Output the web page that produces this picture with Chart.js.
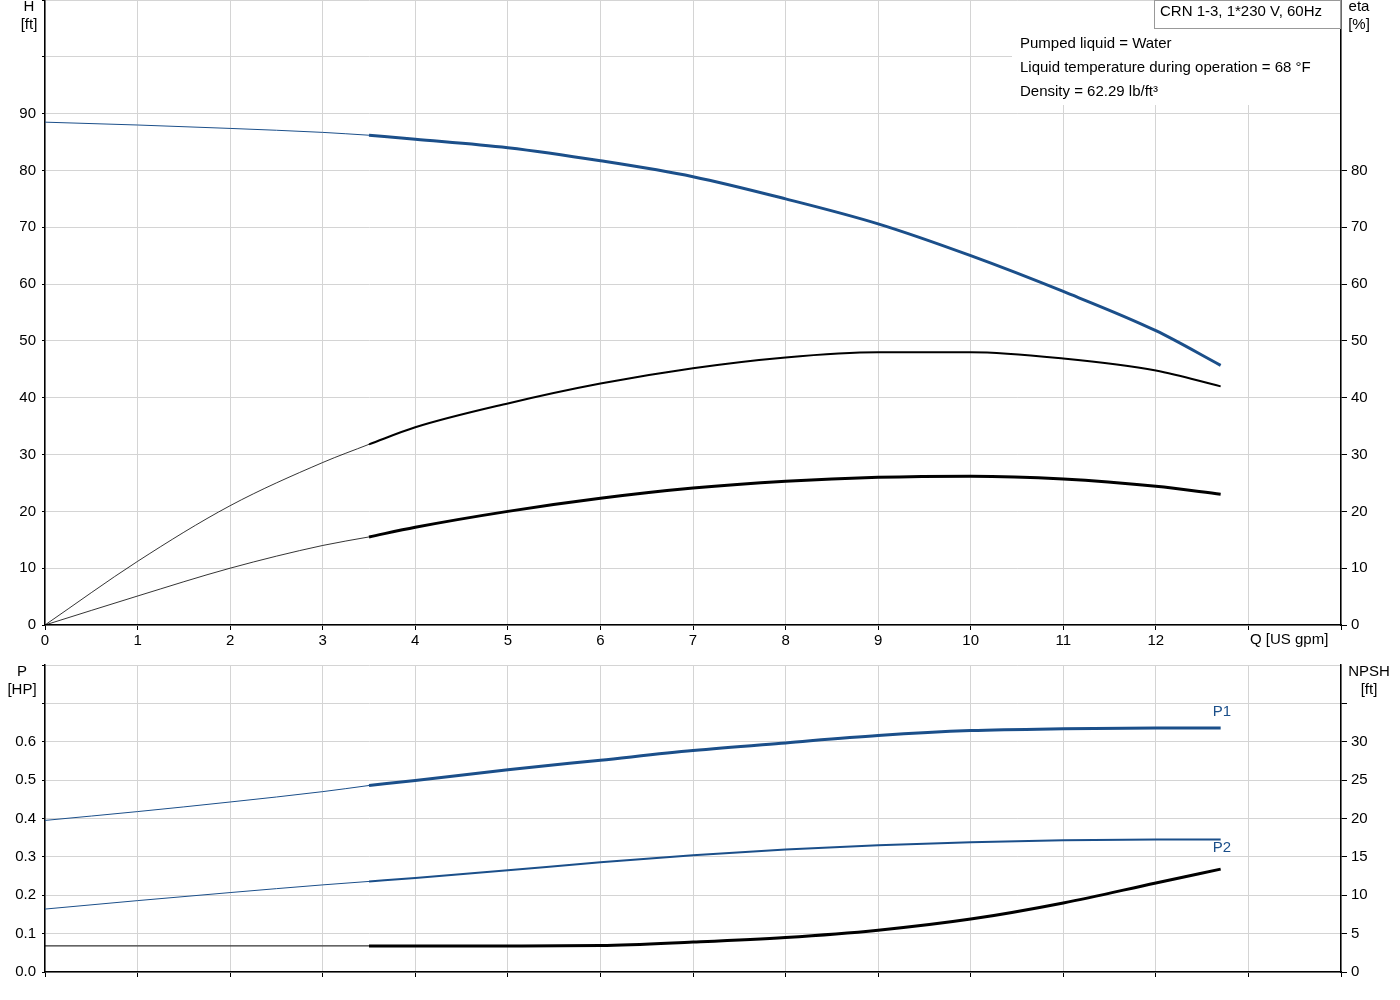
<!DOCTYPE html>
<html><head><meta charset="utf-8">
<script src="https://cdn.jsdelivr.net/npm/chart.js@4"></script>
<style>body{margin:0;background:#fff;overflow:hidden}</style>
</head><body>
<div id="w1" style="position:absolute;left:0;top:0;width:1400px;height:655px"><canvas id="c1"></canvas></div>
<div id="w2" style="position:absolute;left:0;top:655px;width:1400px;height:345px"><canvas id="c2"></canvas></div>
<script>
const qThin = [0, 1, 2, 3, 3.5];
const qThick = [3.5, 4, 5, 6, 7, 8, 9, 10, 11, 12, 12.7];
const hThin = [88.5, 88.0, 87.4, 86.7, 86.2];
const hThick = [86.2, 85.5, 84.0, 81.7, 78.9, 75.0, 70.6, 65.0, 58.7, 51.8, 45.7];
const etaAThin = [0, 11.2, 21.0, 28.6, 31.8];
const etaAThick = [31.8, 34.8, 39.0, 42.5, 45.2, 47.1, 48.0, 48.0, 46.9, 44.8, 42.0];
const etaBThin = [0, 5.1, 10.0, 14.0, 15.5];
const etaBThick = [15.5, 17.2, 20.0, 22.3, 24.1, 25.3, 26.0, 26.2, 25.7, 24.4, 23.0];
const p1Thin = [0.395, 0.418, 0.443, 0.470, 0.486];
const p1Thick = [0.486, 0.499, 0.527, 0.552, 0.577, 0.597, 0.616, 0.629, 0.634, 0.636, 0.636];
const p2Thin = [0.164, 0.186, 0.207, 0.227, 0.236];
const p2Thick = [0.236, 0.245, 0.265, 0.286, 0.304, 0.319, 0.330, 0.338, 0.343, 0.345, 0.345];
const npshThin = [3.4, 3.4, 3.4, 3.4, 3.4];
const npshThick = [3.4, 3.4, 3.4, 3.45, 3.9, 4.5, 5.45, 6.9, 9.0, 11.6, 13.4];
const xTickLabels = ['0','1','2','3','4','5','6','7','8','9','10','11','12','',''];

const BLUE = '#1b4f8a';
Chart.defaults.font = {family: 'Liberation Sans, Arial', size: 15};
Chart.defaults.color = '#000';
const pts = (xs, ys) => xs.map((x, i) => ({x, y: ys[i]}));
const ds = (xs, ys, color, w, axis) => ({data: pts(xs, ys), borderColor: color, borderWidth: w, pointRadius: 0, cubicInterpolationMode: 'monotone', yAxisID: axis, fill: false});
const fixW = w => function (s) { s.width = w; };
const fixH = h => function (s) { s.height = h; };
const GRID = '#d4d4d4';
const offs = {c1: 0, c2: 655};

function xScale(labels, h) {
  return {type: 'linear', min: 0, max: 14, afterFit: fixH(h),
    afterBuildTicks: s => { s.ticks = []; for (let i = 0; i <= 14; i++) s.ticks.push({value: i}); },
    ticks: {display: labels, maxRotation: 0, padding: 2, callback: v => xTickLabels[v] || ''},
    grid: {color: GRID, tickLength: 5, tickColor: '#000'},
    border: {color: '#000', width: 1.5}};
}
function textPlugin(name, fn) { return {id: name, afterDraw: c => { const x = c.ctx; x.save(); x.translate(0, -offs[c.canvas.id]); fn(x, c); x.restore(); }}; }

const ch1 = new Chart(document.getElementById('c1'), {
  type: 'line',
  data: {datasets: [
    ds(qThin, hThin, BLUE, 1, 'yL'), ds(qThick, hThick, BLUE, 3, 'yL'),
    ds(qThin, etaAThin, '#000', 0.8, 'yR'), ds(qThick, etaAThick, '#000', 2, 'yR'),
    ds(qThin, etaBThin, '#000', 0.8, 'yR'), ds(qThick, etaBThick, '#000', 3, 'yR')]},
  options: {responsive: true, maintainAspectRatio: false, animation: false,
    layout: {padding: 0},
    plugins: {legend: {display: false}, tooltip: {enabled: false}},
    scales: {
      x: xScale(true, 30),
      yL: {position: 'left', min: 0, max: 110, afterFit: fixW(45),
        afterBuildTicks: s => { s.ticks = []; for (let i = 0; i <= 110; i += 10) s.ticks.push({value: i}); },
        ticks: {padding: 6, callback: v => v <= 90 ? v : ''},
        grid: {color: GRID, tickLength: 3, tickColor: '#000'}, border: {color: '#000', width: 1.5}},
      yR: {position: 'right', min: 0, max: 110, afterFit: fixW(59),
        afterBuildTicks: s => { s.ticks = []; for (let i = 0; i <= 80; i += 10) s.ticks.push({value: i}); },
        ticks: {padding: 4},
        grid: {drawOnChartArea: false, tickLength: 6, tickColor: '#000'}, border: {color: '#000', width: 1.5}}
    }},
  plugins: [textPlugin('t1', (x, c) => {
    x.fillStyle = '#fff'; x.fillRect(1012, 1, 328, 104);
    x.strokeStyle = '#999'; x.lineWidth = 1; x.strokeRect(1154.5, 0.5, 186, 28);
    x.fillStyle = '#000'; x.font = '15px Liberation Sans, Arial'; x.textBaseline = 'middle';
    x.textAlign = 'left';
    x.fillText('CRN 1-3, 1*230 V, 60Hz', 1160, 12);
    x.fillText('Pumped liquid = Water', 1020, 44);
    x.fillText('Liquid temperature during operation = 68 °F', 1020, 68);
    x.fillText('Density = 62.29 lb/ft³', 1020, 92);
    x.fillText('Q [US gpm]', 1250, 640);
    x.textAlign = 'center';
    x.fillText('H', 29, 7); x.fillText('[ft]', 29, 25);
    x.fillText('eta', 1359, 7); x.fillText('[%]', 1359, 25);
  })]
});

const ch2 = new Chart(document.getElementById('c2'), {
  type: 'line',
  data: {datasets: [
    ds(qThin, p1Thin, BLUE, 1, 'yL'), ds(qThick, p1Thick, BLUE, 3, 'yL'),
    ds(qThin, p2Thin, BLUE, 1, 'yL'), ds(qThick, p2Thick, BLUE, 2, 'yL'),
    ds(qThin, npshThin, '#000', 1, 'yR'), ds(qThick, npshThick, '#000', 3, 'yR')]},
  options: {responsive: true, maintainAspectRatio: false, animation: false,
    layout: {padding: 0},
    plugins: {legend: {display: false}, tooltip: {enabled: false}},
    scales: {
      x: xScale(false, 28),
      yL: {position: 'left', min: 0, max: 0.8, afterFit: fixW(45),
        afterBuildTicks: s => { s.ticks = []; for (let i = 0; i <= 8; i++) s.ticks.push({value: i / 10}); },
        ticks: {padding: 6, callback: v => v <= 0.65 ? v.toFixed(1) : ''},
        grid: {color: GRID, tickLength: 3, tickColor: '#000'}, border: {color: '#000', width: 1.5}},
      yR: {position: 'right', min: 0, max: 40, afterFit: fixW(59),
        afterBuildTicks: s => { s.ticks = []; for (let i = 0; i <= 35; i += 5) s.ticks.push({value: i}); },
        ticks: {padding: 4, callback: v => v <= 30 ? v : ''},
        grid: {drawOnChartArea: false, tickLength: 6, tickColor: '#000'}, border: {color: '#000', width: 1.5}}
    }},
  plugins: [textPlugin('t2', (x, c) => {
    x.fillStyle = '#000'; x.font = '15px Liberation Sans, Arial'; x.textBaseline = 'middle'; x.textAlign = 'center';
    x.fillText('P', 22, 672); x.fillText('[HP]', 22, 690);
    x.fillText('NPSH', 1369, 672); x.fillText('[ft]', 1369, 690);
    x.fillStyle = BLUE;
    x.fillText('P1', 1222, 712); x.fillText('P2', 1222, 848);
  })]
});

function place(chart, wrapId, key, top, bottom, xh) {
  const a = chart.chartArea.top;
  const wTop = top - a;
  offs[key] = wTop;
  const w = document.getElementById(wrapId);
  w.style.top = wTop + 'px';
  w.style.height = (a + (bottom - top) + xh) + 'px';
  chart.resize();
}
place(ch1, 'w1', 'c1', 0, 625, 30);
place(ch2, 'w2', 'c2', 665, 972, 28);
</script>
</body></html>
